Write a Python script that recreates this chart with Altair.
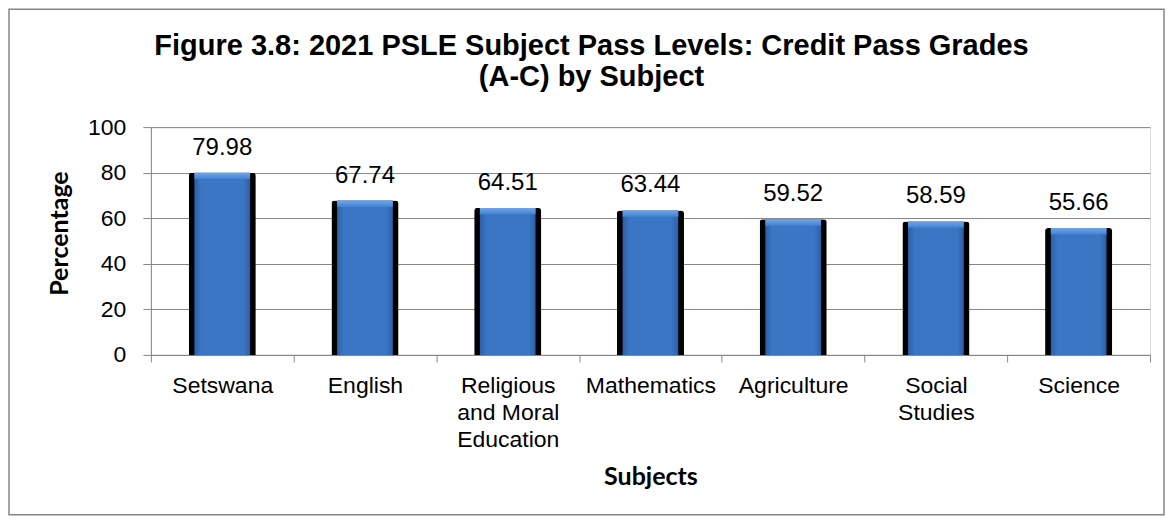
import json
import altair as alt
import pandas as pd

subjects = ["Setswana", "English", "Religious and Moral Education", "Mathematics",
            "Agriculture", "Social Studies", "Science"]
credit_pass = [79.98, 67.74, 64.51, 63.44, 59.52, 58.59, 55.66]
wrapped_labels = {
    "Religious and Moral Education": ["Religious", "and Moral", "Education"],
    "Social Studies": ["Social", "Studies"],
}
y_ticks = [0, 20, 40, 60, 80, 100]
title_lines = ["Figure 3.8: 2021 PSLE Subject Pass Levels: Credit Pass Grades", "(A-C) by Subject"]

df = pd.DataFrame({"subject": subjects, "value": credit_pass})

label_expr = "datum.label"
for k, v in wrapped_labels.items():
    label_expr = f"datum.label == {json.dumps(k)} ? {json.dumps(v)} : ({label_expr})"

GRAY = "#868686"
FONT = "Liberation Sans"
TFONT = "Lato"

x_enc = alt.X(
    "subject:N", sort=subjects,
    scale=alt.Scale(paddingInner=0, paddingOuter=0),
    axis=alt.Axis(
        title="Subjects", titleFont=TFONT, titleFontSize=25, titleFontWeight="bold",
        titleY=130, titleBaseline="alphabetic", titleColor="black",
        labelAngle=0, labelFont=FONT, labelFontSize=23, labelLineHeight=27,
        labelPadding=13, labelColor="black", labelLimit=0, labelOverlap=False,
        tickBand="extent", tickSize=7, tickColor=GRAY, domainColor=GRAY,
        labelExpr=label_expr, grid=False,
    ),
)
y_enc = alt.Y(
    "value:Q",
    scale=alt.Scale(domain=[0, 100], nice=False),
    axis=alt.Axis(
        values=y_ticks, title="Percentage", titleFont=TFONT, titleFontSize=25,
        titleFontWeight="bold", titleAngle=-90, titleX=-91, titleY=106,
        titleBaseline="middle", titleAlign="center", titleColor="black",
        labelFont=FONT, labelFontSize=23, labelPadding=17, labelColor="black",
        tickSize=8, tickColor=GRAY, domainColor=GRAY, gridColor=GRAY, grid=True,
    ),
)

base = alt.Chart(df)

shadow = base.mark_bar(
    color="black", width=alt.RelativeBandSize(0.47),
    cornerRadiusTopLeft=3, cornerRadiusTopRight=3,
).encode(x=x_enc, y=y_enc)

blue_grad = alt.Gradient(
    gradient="linear", x1=0, y1=0, x2=1, y2=0,
    stops=[
        alt.GradientStop(offset=0, color="#2b60a8"),
        alt.GradientStop(offset=0.12, color="#3a76c4"),
        alt.GradientStop(offset=0.88, color="#3a76c4"),
        alt.GradientStop(offset=1, color="#2b60a8"),
    ],
)
blue = base.mark_bar(color=blue_grad, width=alt.RelativeBandSize(0.39)).encode(
    x=x_enc, y=y_enc
)

bevel_grad = alt.Gradient(
    gradient="linear", x1=0, y1=0, x2=0, y2=1,
    stops=[
        alt.GradientStop(offset=0, color="#6fa6e8"),
        alt.GradientStop(offset=1, color="#4282d2"),
    ],
)
bevel = base.transform_calculate(top2="datum.value - 2.8").mark_bar(
    color=bevel_grad, width=alt.RelativeBandSize(0.39)
).encode(x=x_enc, y=y_enc, y2="top2:Q")

labels = base.mark_text(
    dy=-18, baseline="alphabetic", fontSize=24, font=FONT, color="black"
).encode(x=x_enc, y=y_enc, text=alt.Text("value:Q", format=".2f"))

border = alt.Chart(alt.Data(values=[{"a": 1}])).mark_rect(
    fill="white", fillOpacity=0, stroke=GRAY, strokeWidth=1.5
).encode(
    x=alt.value(-142), x2=alt.value(1014), y=alt.value(-118), y2=alt.value(388)
)

chart = alt.layer(border, shadow, blue, bevel, labels).properties(
    width=1000, height=228,
    padding=0,
    title=alt.Title(
        title_lines, fontSize=29, font=FONT, fontWeight="bold", color="black",
        anchor="middle", frame="bounds", offset=-107, lineHeight=31,
        baseline="alphabetic", dx=5,
    ),
).configure_view(stroke=None).configure(background="white")

chart.save("out.html", embed_options={"renderer": "svg", "actions": False})
